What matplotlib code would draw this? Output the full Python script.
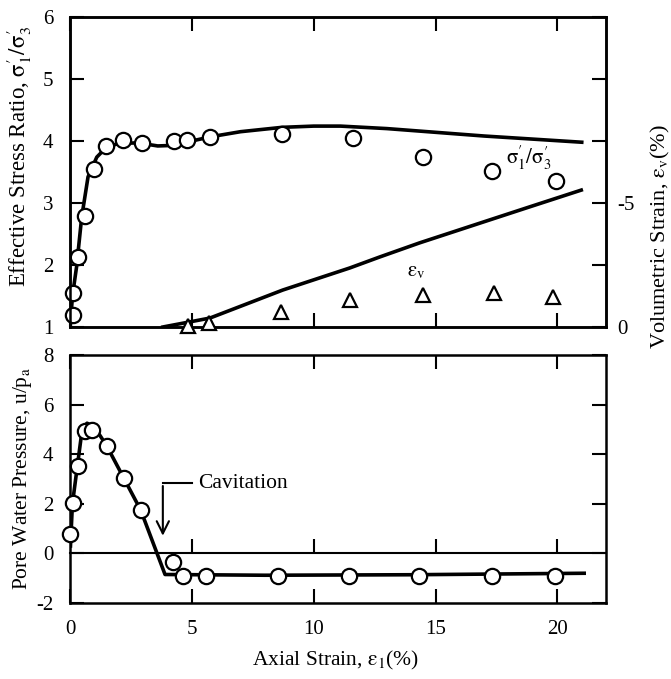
import numpy as np
import matplotlib
matplotlib.use("Agg")
import matplotlib.pyplot as plt
from matplotlib.ticker import FixedLocator, FixedFormatter

plt.rcParams['font.family'] = ['Liberation Serif', 'DejaVu Serif']
plt.rcParams['mathtext.fontset'] = 'stix'
plt.rcParams['axes.unicode_minus'] = False

# ---------- top panel : stress ratio ----------
sr_x = [0.11, 0.14, 0.34, 0.61, 0.98, 1.48, 2.17, 2.95, 4.26, 4.8, 5.74, 8.69, 11.6, 14.5, 17.3, 19.96]
sr_y = [1.19, 1.55, 2.13, 2.79, 3.55, 3.92, 4.02, 3.97, 4.0, 4.02, 4.06, 4.11, 4.05, 3.74, 3.52, 3.35]
sr_fit_x = [0.02, 0.1, 0.27, 0.48, 0.74, 1.1, 1.5, 2.0, 2.8, 3.6, 4.3, 5.0, 5.8, 7, 8.7, 10, 11.1, 13, 15, 17, 19, 21]
sr_fit_y = [1.05, 1.5, 1.97, 2.77, 3.42, 3.74, 3.9, 3.96, 3.97, 3.92, 3.93, 4.0, 4.07, 4.15, 4.22, 4.24, 4.24, 4.2, 4.14, 4.08, 4.03, 3.98]

# volumetric strain (right axis)
ev_x = [4.84, 5.7, 8.65, 11.5, 14.47, 17.4, 19.84]
ev_y = [-0.04, -0.16, -0.6, -1.09, -1.29, -1.37, -1.21]
ev_fit_x = [3.81, 5.74, 8.73, 11.48, 12.7, 14.34, 17.2, 18.85, 20.98]
ev_fit_y = [0.0, -0.36, -1.49, -2.38, -2.82, -3.39, -4.31, -4.84, -5.52]

# ---------- bottom panel : pore pressure ----------
pw_x = [0.0, 0.11, 0.32, 0.61, 0.89, 1.5, 2.21, 2.91, 4.21, 4.62, 5.6, 8.52, 11.43, 14.34, 17.3, 19.9]
pw_y = [0.77, 2.02, 3.52, 4.94, 4.98, 4.33, 3.04, 1.74, -0.36, -0.93, -0.93, -0.93, -0.93, -0.93, -0.9, -0.9]
pw_fit_x = [0.02, 0.1, 0.3, 0.5, 0.7, 1.0, 1.5, 2.2, 2.9, 3.9, 8.0, 14.0, 21.1]
pw_fit_y = [0.3, 2.0, 3.5, 5.0, 5.25, 5.1, 4.35, 3.05, 1.75, -0.85, -0.88, -0.86, -0.8]

xticks = [0, 5, 10, 15, 20]

fig = plt.figure(figsize=(6.71, 6.79), dpi=100)
ax1 = fig.add_axes([0.1043, 0.5184, 0.799, 0.4566])
ax3 = fig.add_axes([0.1043, 0.1119, 0.799, 0.3653])

tick_kw = dict(direction='in', length=10, width=1.5, labelsize=15)

# top panel
ax1.plot(sr_fit_x, sr_fit_y, color='black', lw=2.6, zorder=2)
ax1.plot(sr_x, sr_y, 'o', ms=11, mfc='white', mec='black', mew=1.6, zorder=3, clip_on=False)
ax1.set_xlim(0, 22)
ax1.set_ylim(1, 6)
ax1.set_yticks([1, 2, 3, 4, 5, 6])
ax1.set_xticks(xticks)
ax1.tick_params(axis='both', top=True, bottom=True, labelbottom=False, **tick_kw)
ax1.tick_params(axis='y', pad=12)
ax1.set_ylabel("Effective Stress Ratio, $\\mathrm{\\sigma}_1^{\\prime}/\\mathrm{\\sigma}_3^{\\prime}$", fontsize=16.5)
ax1.yaxis.set_label_coords(-0.067, 0.55)
ax1.text(18.85, 3.72, "$\\mathrm{\\sigma}_1^{\\prime}/\\mathrm{\\sigma}_3^{\\prime}$", fontsize=15, ha='center', va='center')
ax1.text(14.2, 1.89, "$\\mathrm{\\varepsilon}_{\\rm v}$", fontsize=15, ha='center', va='center')

ax2 = ax1.twinx()
ax2.set_ylim(0, -12.5)
ax2.plot(ev_fit_x, ev_fit_y, color='black', lw=2.6, zorder=2)
ax2.plot(ev_x, ev_y, '^', ms=10, mfc='white', mec='black', mew=1.6, zorder=3, clip_on=False)
ax2.yaxis.set_major_locator(FixedLocator([0, -2.5, -5, -7.5, -10, -12.5]))
ax2.yaxis.set_major_formatter(FixedFormatter(['0', '', '-5', '', '', '']))
ax2.tick_params(axis='y', pad=8, **tick_kw)
ax2.set_ylabel("Volumetric Strain, $\\mathrm{\\varepsilon}_{\\rm v}$(%)", fontsize=16, rotation=90)
ax2.yaxis.set_label_coords(1.08, 0.29)

# bottom panel
ax3.plot(pw_fit_x, pw_fit_y, color='black', lw=2.6, zorder=2)
ax3.plot(pw_x, pw_y, 'o', ms=11, mfc='white', mec='black', mew=1.6, zorder=3, clip_on=False)
ax3.set_xlim(0, 22)
ax3.set_ylim(-2, 8)
ax3.set_yticks([-2, 0, 2, 4, 6, 8])
ax3.set_xticks(xticks)
ax3.tick_params(axis='both', top=True, right=True, **tick_kw)
ax3.tick_params(axis='x', pad=12)
ax3.tick_params(axis='y', pad=12)
ax3.set_ylabel("Pore Water Pressure, u/p$_{\\rm a}$", fontsize=15.5)
ax3.yaxis.set_label_coords(-0.067, 0.5)

# zero line acting as an axis with upward ticks
zero = ax3.secondary_xaxis(0.2)
zero.set_xticks(xticks[1:])
zero.tick_params(axis='x', direction='in', length=10, width=1.5, labelbottom=False)
zero.spines['bottom'].set_linewidth(1.5)

ax3.annotate("", xy=(3.81, 0.6), xytext=(3.81, 2.83),
             arrowprops=dict(arrowstyle='->', lw=1.5, color='black', mutation_scale=22))
ax3.plot([3.81, 5.0], [2.83, 2.83], color='black', lw=1.5)
ax3.text(5.25, 2.83, "Cavitation", fontsize=15.5, ha='left', va='center')

fig.text(0.5, 1 - 660 / 679, "Axial Strain, $\\mathrm{\\varepsilon}_1$(%)", fontsize=15.5, ha='center', va='center')

for ax in (ax1, ax2, ax3):
    for s in ax.spines.values():
        s.set_linewidth(1.8)

fig.savefig("out.png", dpi=100)
